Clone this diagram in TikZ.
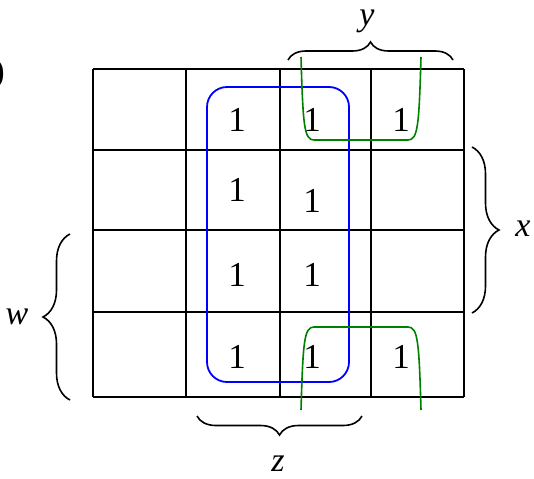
\documentclass[tikz,border=0pt]{standalone}
\usepackage{fontspec}
\setmainfont{Liberation Serif}
\usetikzlibrary{decorations.pathreplacing}

\begin{document}
\begin{tikzpicture}[x=1pt,y=-1pt]
  \tikzstyle{one}=[inner sep=0pt,font=\fontsize{35}{38}\selectfont]
  \tikzstyle{var}=[inner sep=0pt,font=\fontsize{34}{37}\selectfont\itshape]
  \tikzstyle{brace}=[draw,line width=1.6pt,decorate]
  \tikzstyle{loop}=[draw=green!50!black,line width=1.6pt]
  \useasboundingbox (0,0) rectangle (534,478);
  % grid
  \foreach \x in {93,186,280,371,464}
    \draw[line width=1.8pt] (\x,69) -- (\x,397);
  \foreach \y in {69,150,230,312,397}
    \draw[line width=1.8pt] (93,\y) -- (464,\y);
  % ones
  \node[one] (r1c2) at (237,120) {1};
  \node[one] (r1c3) at (312,120) {1};
  \node[one] (r1c4) at (401,120) {1};
  \node[one] (r2c2) at (237,190) {1};
  \node[one] (r2c3) at (312,201) {1};
  \node[one] (r3c2) at (237,275) {1};
  \node[one] (r3c3) at (312,275) {1};
  \node[one] (r4c2) at (237,357) {1};
  \node[one] (r4c3) at (312,357) {1};
  \node[one] (r4c4) at (401,357) {1};
  % loops
  \draw[blue,line width=1.8pt,rounded corners=20pt] (207,87) rectangle (349,382);
  \draw[loop] (301,57) .. controls (303,125) and (304,140) .. (314,140)
    -- (408,140) .. controls (418,140) and (419,125) .. (421,57);
  \draw[loop] (301,410) .. controls (303,342) and (304,327) .. (314,327)
    -- (408,327) .. controls (418,327) and (419,342) .. (421,410);
  % braces
  \coordinate (ya) at (288,60);
  \coordinate (yb) at (453,60);
  \coordinate (xa) at (472,147);
  \coordinate (xb) at (472,313);
  \coordinate (wa) at (70,400);
  \coordinate (wb) at (70,234);
  \coordinate (za) at (362,416);
  \coordinate (zb) at (197,416);
  \draw[brace,decoration={brace,amplitude=18pt}] (ya) -- (yb);
  \draw[brace,decoration={brace,amplitude=27pt}] (xa) -- (xb);
  \draw[brace,decoration={brace,amplitude=27pt}] (wa) -- (wb);
  \draw[brace,decoration={brace,amplitude=19pt}] (za) -- (zb);
  \node[var] (ylabel) at (367,21) {y};
  \node[var] (xlabel) at (523,229) {x};
  \node[var] (wlabel) at (17,317) {w};
  \node[var] (zlabel) at (278,464) {z};
  \node[one,anchor=east] (paren) at (5,74) {)};
\end{tikzpicture}
\end{document}
